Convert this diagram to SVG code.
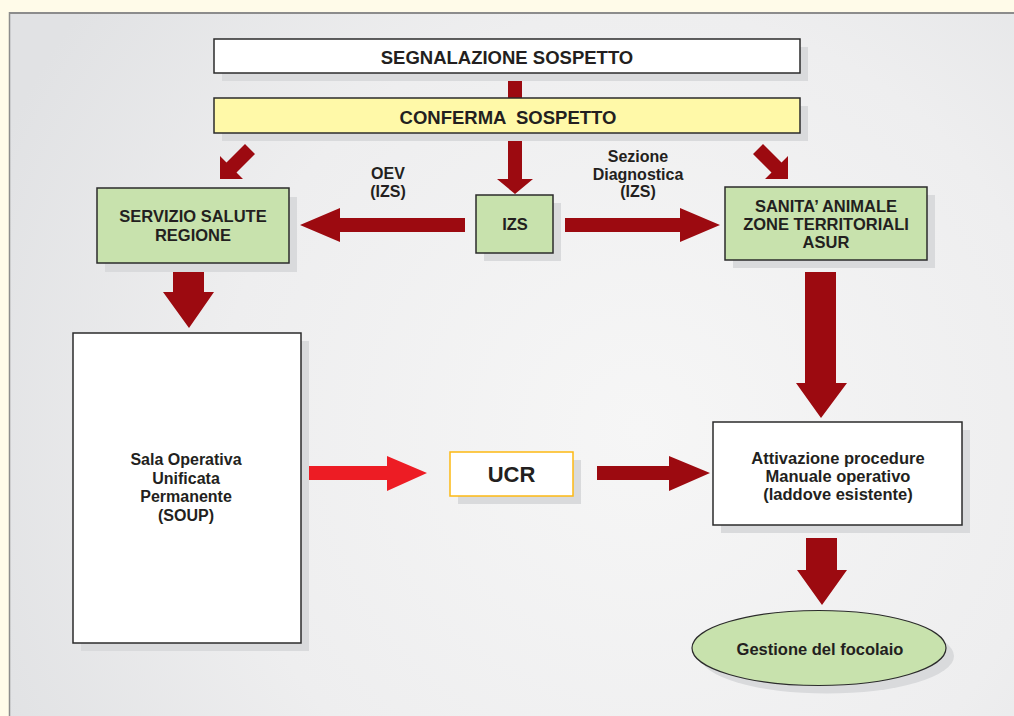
<svg xmlns="http://www.w3.org/2000/svg" width="1014" height="716" viewBox="0 0 1014 716">
<defs>
<radialGradient id="bg" cx="640" cy="430" r="700" gradientUnits="userSpaceOnUse">
<stop offset="0" stop-color="#f6f6f6"/>
<stop offset="0.6" stop-color="#eeeeef"/>
<stop offset="1" stop-color="#e1e2e4"/>
</radialGradient>
</defs>
<style>
.box{stroke:#2b2b2b;stroke-width:1.5}
.white{fill:#ffffff}
.green{fill:#c8e2ad}
.yellow{fill:#fff9a8}
.sh{fill:#d9dadc}
.arr{fill:#9c0a10}
.arr2{fill:#ed1c24}
text{font-family:"Liberation Sans",Arial,sans-serif;font-weight:bold;fill:#231f20;text-anchor:middle}
.t18{font-size:18.5px}
.t16{font-size:16.5px}
.t15{font-size:16px}
</style>
<rect x="0" y="0" width="1014" height="716" fill="#fffbe9"/>
<rect x="9" y="12" width="1005" height="704" fill="url(#bg)"/>
<line x1="9" y1="13" x2="1014" y2="13" stroke="#8c8c8c" stroke-width="2"/>
<line x1="9.5" y1="12" x2="9.5" y2="716" stroke="#8c8c8c" stroke-width="1.5"/>

<g id="connectors">
<rect class="arr" x="508" y="73" width="14" height="25"/>
<polygon class="arr" points="508,133 522,133 522,179 533,179 515,194 497,179 508,179"/>
<polygon class="arr" points="220,179 220,156 226.5,162.5 245,144 255,154 236.5,172.5 243,179"/>
<polygon class="arr" points="788,179 788,156 781.5,162.5 763,144 753,154 771.5,172.5 765,179"/>
<polygon class="arr" points="465,218 340,218 340,208 300,225 340,242 340,232 465,232"/>
<polygon class="arr" points="565,218 680,218 680,208 720,225 680,242 680,232 565,232"/>
<polygon class="arr" points="173,263 204,263 204,292 214,292 189,328 163,292 173,292"/>
<polygon class="arr" points="805,272 836,272 836,383 847,383 821,418 796,383 805,383"/>
<polygon class="arr" points="806,538 837,538 837,570 847,570 822,605 797,570 806,570"/>
<polygon class="arr2" points="306,466 387,466 387,456 427,473 387,491 387,480 306,480"/>
<polygon class="arr" points="597,466 669,466 669,456 710,473 669,491 669,480 597,480"/>
</g>

<g id="segnalazione">
<rect class="sh" x="222" y="47" width="586" height="34"/>
<rect class="box white" x="214" y="39" width="586" height="34"/>
<text class="t18" x="507" y="64">SEGNALAZIONE SOSPETTO</text>
</g>

<g id="conferma">
<rect class="sh" x="222" y="106" width="586" height="35"/>
<rect class="box yellow" x="214" y="98" width="586" height="35"/>
<text class="t18" x="508" y="123.5" xml:space="preserve">CONFERMA  SOSPETTO</text>
</g>

<g id="servizio">
<rect class="sh" x="105" y="197" width="192" height="75"/>
<rect class="box green" x="97" y="188" width="192" height="75"/>
<text class="t16" x="193" y="222">SERVIZIO SALUTE</text>
<text class="t16" x="193" y="240.5">REGIONE</text>
</g>

<g id="izs">
<rect class="sh" x="484" y="203" width="77" height="58"/>
<rect class="box green" x="476" y="195" width="77" height="58"/>
<text class="t16" x="515" y="230">IZS</text>
</g>

<g id="sanita">
<rect class="sh" x="733" y="195" width="202" height="73"/>
<rect class="box green" x="725" y="187" width="202" height="73"/>
<text class="t16" x="826" y="212">SANITA’ ANIMALE</text>
<text class="t16" x="826" y="230">ZONE TERRITORIALI</text>
<text class="t16" x="826" y="248">ASUR</text>
</g>

<g id="label-oev">
<text class="t15" x="388" y="178.5">OEV</text>
<text class="t15" x="388" y="197">(IZS)</text>
</g>

<g id="label-sezione">
<text class="t15" x="638" y="162">Sezione</text>
<text class="t15" x="638" y="179.5">Diagnostica</text>
<text class="t15" x="638" y="197">(IZS)</text>
</g>

<g id="soup">
<rect class="sh" x="81" y="341" width="228" height="310"/>
<rect class="box white" x="73" y="333" width="228" height="310"/>
<text class="t15" x="186" y="465">Sala Operativa</text>
<text class="t15" x="186" y="483.5">Unificata</text>
<text class="t15" x="186" y="502">Permanente</text>
<text class="t15" x="186" y="520.5">(SOUP)</text>
</g>

<g id="ucr">
<rect class="sh" x="458" y="460" width="123" height="44"/>
<rect x="450" y="452" width="123" height="44" fill="#ffffff" stroke="#fdb913" stroke-width="1.5"/>
<text x="511.5" y="482" style="font-size:22px">UCR</text>
</g>

<g id="attivazione">
<rect class="sh" x="721" y="430" width="249" height="103"/>
<rect class="box white" x="713" y="422" width="249" height="103"/>
<text class="t16" x="838" y="464">Attivazione procedure</text>
<text class="t16" x="838" y="482">Manuale operativo</text>
<text class="t16" x="838" y="500">(laddove esistente)</text>
</g>

<g id="gestione">
<ellipse class="sh" cx="827" cy="656" rx="127" ry="37.5"/>
<ellipse cx="819" cy="648" rx="127" ry="37.5" fill="#c8e2ad" stroke="#2b2b2b" stroke-width="1.2"/>
<text class="t16" x="820" y="655">Gestione del focolaio</text>
</g>
</svg>
